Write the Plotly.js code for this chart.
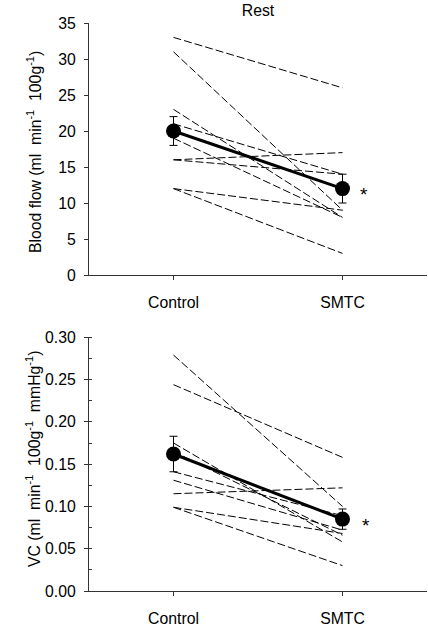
<!DOCTYPE html>
<html>
<head>
<meta charset="utf-8">
<script src="https://cdn.plot.ly/plotly-3.0.1.min.js"></script>
<style>html,body{margin:0;padding:0;background:#fff;}#chart{width:428px;height:626px;}</style>
</head>
<body>
<div id="chart"></div>
<script>
const categories = ['Control', 'SMTC'];
// Blood flow, individual subjects
const flowControl = [33, 31, 23, 21, 19, 16, 16, 12, 12];
const flowSMTC    = [26, 9, 8, 14, 8, 17, 14, 9, 3];
const flowMean = [20, 12];
const flowSE   = [2, 2];
// Vascular conductance, individual subjects
const vcControl = [0.279, 0.244, 0.175, 0.165, 0.141, 0.131, 0.115, 0.099, 0.099];
const vcSMTC    = [0.100, 0.158, 0.058, 0.066, 0.089, 0.072, 0.122, 0.068, 0.030];
const vcMean = [0.162, 0.085];
const vcSE   = [0.021, 0.012];
const flowTicks = [0, 5, 10, 15, 20, 25, 30, 35];
const vcTicks = [0, 0.05, 0.10, 0.15, 0.20, 0.25, 0.30];

const FONT = 'Liberation Sans, Arial, Helvetica, sans-serif';
const FS = 15.8;
const traces = [];
function addPanel(ctrl, smtc, mean, se, xa, ya) {
  for (let i = 0; i < ctrl.length; i++) {
    traces.push({
      x: categories, y: [ctrl[i], smtc[i]], xaxis: xa, yaxis: ya,
      type: 'scatter', mode: 'lines', hoverinfo: 'skip', showlegend: false,
      line: {color: '#000', width: 1, dash: '8px,3px'}
    });
  }
  traces.push({
    x: categories, y: mean, xaxis: xa, yaxis: ya,
    type: 'scatter', mode: 'lines+markers', showlegend: false,
    line: {color: '#000', width: 3},
    marker: {color: '#000', size: 15},
    error_y: {type: 'data', array: se, visible: true, color: '#000', thickness: 1, width: 4}
  });
}
addPanel(flowControl, flowSMTC, flowMean, flowSE, 'x', 'y');
addPanel(vcControl, vcSMTC, vcMean, vcSE, 'x2', 'y2');

const H = 626, T = 23, B = 35;
const PH = H - T - B;
const py = p => (H - B - p) / PH; // pixel y -> paper fraction

const xCommon = {
  type: 'category', range: [-0.5, 1.5], showline: true, linecolor: '#333', linewidth: 1,
  ticks: 'outside', ticklen: 4, tickcolor: '#333', showgrid: false, zeroline: false,
  tickfont: {family: FONT, size: FS, color: '#000'}, ticklabelstandoff: 9
};
const yCommon = {
  showline: true, linecolor: '#333', linewidth: 1, ticks: 'outside', ticklen: 4,
  tickcolor: '#333', showgrid: false, zeroline: false,
  tickfont: {family: FONT, size: FS, color: '#000'}, ticklabelstandoff: 5
};

const layout = {
  width: 428, height: 626,
  margin: {l: 89, r: 1, t: T, b: B},
  paper_bgcolor: '#fff', plot_bgcolor: '#fff',
  font: {family: FONT, size: FS, color: '#000'},
  showlegend: false,
  title: {text: 'Rest', font: {family: FONT, size: FS, color: '#000'},
          xref: 'paper', x: 0.5, xanchor: 'center', yref: 'container', y: 1 - 10 / H, yanchor: 'middle'},
  xaxis: Object.assign({}, xCommon, {anchor: 'y'}),
  yaxis: Object.assign({}, yCommon, {domain: [py(275), 1], range: [0, 35],
          tickvals: flowTicks, ticktext: flowTicks.map(String), anchor: 'x'}),
  xaxis2: Object.assign({}, xCommon, {anchor: 'y2'}),
  yaxis2: Object.assign({}, yCommon, {domain: [0, py(337.3)], range: [0, 0.30],
          tickvals: vcTicks, ticktext: vcTicks.map(v => v.toFixed(2)), anchor: 'x2',
          minor: {ticks: 'inside', ticklen: 3, tickcolor: '#333', dtick: 0.025, showgrid: false}}),
  annotations: [
    {text: '*', xref: 'x', yref: 'y', x: 'SMTC', y: flowMean[1], xshift: 21, yshift: -6,
     showarrow: false, font: {family: FONT, size: 19, color: '#000'}},
    {text: '*', xref: 'x2', yref: 'y2', x: 'SMTC', y: vcMean[1], xshift: 23, yshift: -6,
     showarrow: false, font: {family: FONT, size: 19, color: '#000'}},
    {text: 'Blood flow (ml\u00a0\u00a0min<sup>-1</sup>\u00a0\u00a0100g<sup>-1</sup>)', textangle: -90,
     xref: 'paper', yref: 'paper', x: (34 - 89) / 338, y: py(152), xanchor: 'center', yanchor: 'middle',
     showarrow: false, font: {family: FONT, size: FS, color: '#000'}},
    {text: 'VC (ml\u00a0\u00a0min<sup>-1</sup>\u00a0\u00a0100g<sup>-1</sup>\u00a0\u00a0mmHg<sup>-1</sup>)', textangle: -90,
     xref: 'paper', yref: 'paper', x: (33 - 89) / 338, y: py(459), xanchor: 'center', yanchor: 'middle',
     showarrow: false, font: {family: FONT, size: FS, color: '#000'}}
  ]
};

Plotly.newPlot('chart', traces, layout, {staticPlot: true, displayModeBar: false});
</script>
</body>
</html>
